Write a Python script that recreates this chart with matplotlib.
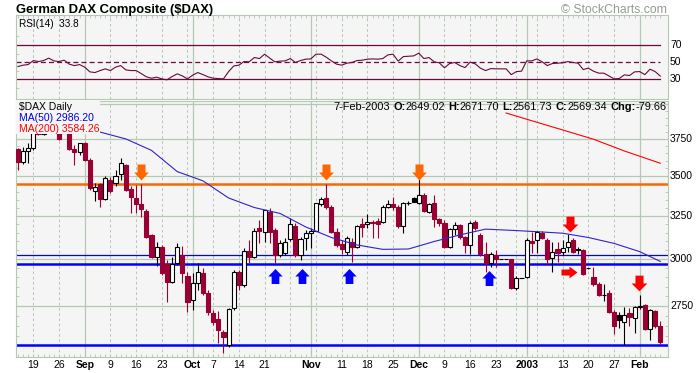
import numpy as np
import pandas as pd
import matplotlib
matplotlib.use("Agg")
import matplotlib.pyplot as plt
from matplotlib.path import Path
from matplotlib.patches import Rectangle
from matplotlib.ticker import FixedLocator, NullFormatter, NullLocator

plt.rcParams['font.family'] = ['Liberation Sans', 'DejaVu Sans']

# Xetra trading days on the chart (closed Christmas day and New Year's day)
dates = pd.bdate_range('2002-08-14', '2003-02-07')
dates = dates[~dates.isin(pd.to_datetime(['2002-12-25', '2003-01-01']))]

opens = [
    3681, 3595, 3667, 3685, 3800, 3785, 3813, 3834, 3806, 3795,
    3806, 3679, 3662, 3720, 3609, 3404, 3449, 3354, 3475, 3457,
    3514, 3571, 3415, 3358, 3323, 3281, 3137, 3009, 3070, 2972,
    2876, 2976, 3022, 2907, 2780, 2867, 2924, 2818, 2712, 2683,
    2619, 2557, 2738, 2930, 2858, 3042, 3013, 3180, 3155, 3276,
    3166, 3022, 3032, 3112, 3191, 3022, 3118, 3150, 3162, 3323,
    3358, 3302, 3155, 3085, 3041, 3097, 3070, 3202, 3202, 3216,
    3222, 3216, 3306, 3323, 3302, 3190, 3327, 3360, 3331, 3379,
    3276, 3327, 3230, 3210, 3066, 3172, 3196, 3124, 3079, 3216,
    3137, 3028, 2976, 3022, 2998, 2998, 2998, 2841, 2895, 2903,
    3102, 3108, 3150, 3108, 3004, 3056, 3041, 3066, 3108, 3056,
    3051, 2950, 2900, 2861, 2806, 2818, 2720, 2704, 2670, 2712,
    2686, 2746, 2754, 2632, 2724, 2649.02]
highs = [
    3687, 3694, 3722, 3806, 3830, 3827, 3850, 3841, 3813, 3834,
    3820, 3708, 3724, 3729, 3619, 3455, 3455, 3497, 3494, 3540,
    3617, 3580, 3436, 3443, 3449, 3292, 3143, 3097, 3079, 2994,
    3011, 3091, 3073, 2928, 2923, 2978, 2950, 2832, 2729, 2725,
    2629, 2739, 2939, 2939, 3062, 3108, 3177, 3226, 3286, 3296,
    3178, 3108, 3120, 3238, 3208, 3126, 3166, 3177, 3329, 3368,
    3449, 3317, 3178, 3108, 3131, 3120, 3196, 3236, 3262, 3226,
    3238, 3317, 3348, 3364, 3317, 3335, 3341, 3366, 3480, 3392,
    3329, 3379, 3238, 3226, 3178, 3216, 3202, 3131, 3222, 3226,
    3149, 3097, 3041, 3051, 2998, 2998, 3000, 2907, 2895, 3120,
    3155, 3160, 3160, 3120, 3097, 3097, 3108, 3145, 3120, 3070,
    3056, 2952, 2954, 2874, 2861, 2832, 2729, 2719, 2742, 2739,
    2750, 2806, 2758, 2732, 2729, 2671.70]
lows = [
    3540, 3580, 3586, 3674, 3778, 3780, 3800, 3795, 3743, 3792,
    3674, 3573, 3640, 3600, 3411, 3344, 3302, 3348, 3392, 3436,
    3475, 3404, 3270, 3268, 3245, 3120, 3006, 2961, 2912, 2771,
    2869, 2967, 2869, 2720, 2729, 2832, 2806, 2704, 2654, 2565,
    2519, 2549, 2729, 2832, 2848, 2977, 3006, 3089, 3097, 3091,
    2976, 3011, 3022, 3102, 3011, 2994, 3051, 3062, 3159, 3310,
    3292, 3149, 3068, 3028, 3022, 2985, 3062, 3127, 3178, 3120,
    3118, 3208, 3298, 3286, 3178, 3147, 3317, 3335, 3323, 3274,
    3268, 3186, 3190, 3062, 3062, 3137, 3114, 3032, 3028, 3166,
    3017, 2930, 2957, 2957, 2998, 2998, 2837, 2832, 2895, 2896,
    3032, 3032, 3114, 2967, 2930, 2985, 3022, 3041, 3032, 3028,
    2912, 2945, 2855, 2801, 2776, 2714, 2607, 2639, 2557, 2649,
    2613, 2734, 2629, 2581, 2639, 2561.73]
closes = [
    3595, 3667, 3685, 3790, 3785, 3813, 3834, 3806, 3750, 3820,
    3679, 3662, 3720, 3606, 3423, 3427, 3354, 3484, 3404, 3497,
    3585, 3411, 3364, 3323, 3290, 3126, 3013, 3066, 2921, 2876,
    2971, 3070, 2921, 2768, 2870, 2930, 2815, 2720, 2670, 2629,
    2597, 2732, 2930, 2858, 3047, 3013, 3162, 3158, 3286, 3155,
    3022, 3089, 3097, 3202, 3022, 3112, 3150, 3162, 3327, 3352,
    3302, 3155, 3079, 3055, 3118, 3070, 3190, 3186, 3216, 3206,
    3200, 3302, 3321, 3302, 3190, 3327, 3330, 3337, 3379, 3281,
    3323, 3230, 3210, 3070, 3172, 3195, 3124, 3079, 3206, 3180,
    3028, 2976, 3028, 2998, 2998, 2998, 2841, 2895, 2895, 3108,
    3093, 3155, 3118, 2998, 3041, 3034, 3060, 3097, 3041, 3048,
    2918, 2948, 2861, 2806, 2808, 2720, 2646, 2678, 2704, 2691,
    2746, 2748, 2632, 2729, 2649.00, 2569.34]

rsi14 = [
    44.9, 46.5, 47.2, 51.9, 50.7, 51.9, 54.7, 51.5, 50.7, 52.3,
    47.7, 46.0, 47.2, 44.2, 38.7, 37.9, 40.2, 42.2, 40.2, 44.2,
    46.0, 41.0, 40.2, 40.2, 36.7, 32.9, 31.3, 32.5, 30.5, 29.4,
    33.2, 36.4, 34.0, 30.5, 34.8, 37.9, 35.5, 32.9, 31.3, 30.9,
    30.5, 39.0, 45.6, 46.5, 50.7, 50.4, 55.4, 54.2, 59.3, 54.7,
    50.4, 51.2, 51.5, 54.2, 49.6, 51.9, 53.5, 53.8, 59.3, 59.3,
    55.8, 51.5, 47.7, 46.5, 48.8, 49.6, 51.9, 52.3, 53.5, 53.8,
    53.5, 54.2, 58.5, 59.3, 51.2, 56.5, 56.9, 57.3, 60.5, 54.2,
    55.4, 50.4, 49.2, 43.4, 48.4, 49.6, 46.0, 43.7, 50.0, 48.0,
    43.0, 40.2, 42.5, 42.2, 42.2, 42.2, 35.5, 39.0, 39.5, 51.5,
    51.5, 53.8, 50.4, 46.0, 48.4, 48.8, 49.2, 50.7, 49.6, 48.8,
    41.4, 43.0, 39.5, 37.2, 37.2, 34.0, 30.5, 30.9, 35.2, 34.4,
    38.7, 39.0, 35.5, 41.8, 39.0, 33.8]

# moving averages (trading-day index, value)
ma50_days = [16, 21, 26, 31, 36, 41, 46, 51, 56, 61, 66, 71, 76, 81, 86, 91,
             96, 101, 106, 111, 116, 121, 125]
ma50_vals = [3798, 3750, 3671, 3529, 3469, 3360, 3301, 3265, 3184, 3122, 3079,
             3054, 3056, 3099, 3137, 3171, 3164, 3156, 3147, 3122, 3088, 3041,
             2986.20]
ma200_days = [95, 99, 105, 112, 118, 125]
ma200_vals = [3935, 3890, 3824, 3748, 3667, 3584.26]

# hand drawn lines
resistance = 3450
support_upper = 3022
support = 2972
support_low = 2557

tick_dates = ['2002-08-19', '2002-08-26', '2002-09-02', '2002-09-09', '2002-09-16',
              '2002-09-23', '2002-10-01', '2002-10-07', '2002-10-14', '2002-10-21',
              '2002-11-01', '2002-11-11', '2002-11-18', '2002-11-25', '2002-12-02',
              '2002-12-09', '2002-12-16', '2002-12-23', '2003-01-02', '2003-01-13',
              '2003-01-20', '2003-01-27', '2003-02-03']
tick_text = ['19', '26', 'Sep', '9', '16', '23', 'Oct', '7', '14', '21', 'Nov', '11',
             '18', '25', 'Dec', '9', '16', '23', '2003', '13', '20', '27', 'Feb']

price_ticks = [2750, 3000, 3250, 3500, 3750]
rsi_levels = [70, 50, 30]

BG = '#f5f5f5'
GRID = '#b4c8b4'
RED = '#990033'
SIZE = 7.5

W, Hpx = 699, 373
fig = plt.figure(figsize=(W / 100, Hpx / 100), dpi=100)


def frame(top, bottom):
    return [16 / W, 1 - bottom / Hpx, 652 / W, (bottom - top) / Hpx]


ax_rsi = fig.add_axes(frame(15, 99.3))
ax = fig.add_axes(frame(101, 357))

n = len(dates)
x = np.arange(n)
mondays = np.where(dates.dayofweek == 0)[0]
month_starts = [i for i in range(1, n) if dates[i].month != dates[i - 1].month]

for a in (ax, ax_rsi):
    a.set_facecolor(BG)
    a.set_xlim(-0.37, 126.5)
    for s in a.spines.values():
        s.set_color(GRID)
        s.set_linewidth(0.8)
    for i in mondays:
        if i not in month_starts:
            a.axvline(i, color=GRID, lw=0.75, ls=(0, (2.5, 2.5)), zorder=0.5)
    for i in month_starts:
        a.axvline(i, color=GRID, lw=0.9, zorder=0.5)
    a.xaxis.set_major_locator(NullLocator())
    a.xaxis.set_minor_locator(FixedLocator(x))
    a.tick_params(which='minor', direction='in', length=2.5, width=0.6, color=GRID)

# ---- RSI panel
ax_rsi.set_ylim(6.7, 105)
ax_rsi.yaxis.set_major_locator(NullLocator())
ax_rsi.yaxis.set_minor_locator(FixedLocator([20, 40, 60, 80]))
ax_rsi.yaxis.set_minor_formatter(NullFormatter())
ax_rsi.tick_params(axis='x', which='minor', top=True, bottom=False)
ax_rsi.tick_params(axis='y', which='minor', left=True, right=False)
RSI_COL = '#6a0a3a'
ax_rsi.axhline(70, color=RSI_COL, lw=0.9, xmax=0.988)
ax_rsi.axhline(30, color=RSI_COL, lw=0.9, xmax=0.988)
ax_rsi.axhline(50, color=RSI_COL, lw=0.9, ls=(0, (4, 2.5)), xmax=0.988)
ax_rsi.plot(x, rsi14, color=RSI_COL, lw=0.8, zorder=3)
for v in rsi_levels:
    ax_rsi.text(1 + 2 / 652, v, str(v), transform=ax_rsi.get_yaxis_transform(),
                ha='left', va='center', fontsize=SIZE)
ax_rsi.text(3 / 652, 1 - 8.7 / 84.3, f'RSI(14)  {rsi14[-1]:.1f}', transform=ax_rsi.transAxes,
            ha='left', va='center', fontsize=7.2)

# ---- price panel
ax.set_yscale('log')
ax.set_ylim(2500, 4024)
ax.yaxis.set_major_locator(NullLocator())
ax.yaxis.set_minor_locator(FixedLocator(np.arange(2550, 4001, 50)))
ax.yaxis.set_minor_formatter(NullFormatter())
ax.tick_params(axis='y', which='minor', left=True, right=True)
ax.tick_params(axis='x', which='minor', bottom=True, top=False)
for p in price_ticks + [4000]:
    ax.axhline(p, color=GRID, lw=0.9, zorder=0.5)
for p in price_ticks:
    ax.text(1 + 2 / 652, p, str(p), transform=ax.get_yaxis_transform(),
            ha='left', va='center', fontsize=SIZE)

ax.axhline(resistance, color='#ff6600', lw=1.8, zorder=2)
ax.axhline(support_upper, color='#0000ff', lw=0.9, zorder=2)
ax.axhline(support, color='#0000ff', lw=1.8, zorder=2)
ax.axhline(support_low, color='#0000ff', lw=1.8, zorder=2)

o, h, l, c = (np.array(v, dtype=float) for v in (opens, highs, lows, closes))
prev_close = np.r_[np.inf, c[:-1]]
colour = np.where(c < prev_close, RED, 'black')
filled = c < o
body_lo = np.minimum(o, c)
body_hi = np.maximum(o, c)
ax.vlines(x, l, h, colors=colour, lw=0.8, zorder=3)
ax.bar(x, body_hi - body_lo, bottom=body_lo, width=0.8,
       color=np.where(filled, colour, 'white'), edgecolor=colour, linewidth=0.8, zorder=4)

ax.plot(ma50_days, ma50_vals, color='#3322cc', lw=0.8, zorder=5)
ax.plot(ma200_days, ma200_vals, color='#ff0000', lw=0.8, zorder=5)


def block_arrow(w, hgt, shaft, turn):
    hh = hgt / 2.0
    pts = np.array([(-shaft / 2, hh), (shaft / 2, hh), (shaft / 2, 0), (w / 2, 0),
                    (0, -hh), (-w / 2, 0), (-shaft / 2, 0), (-shaft / 2, hh)])
    if turn == 'up':
        pts[:, 1] *= -1
    elif turn == 'right':
        pts = np.c_[-pts[:, 1], pts[:, 0]]
    return Path(pts, closed=True), 2 * np.abs(pts).max() * 0.72


arrows = [
    ([24.0, 59.9, 78.0], [3525, 3525, 3525], '#ff6600', block_arrow(14.7, 16, 8, 'down')),
    ([50.1, 55.3, 64.5], [2909, 2909, 2909], '#0000ff', block_arrow(14.3, 15, 7.7, 'up')),
    ([91.7], [2896], '#0000ff', block_arrow(14.3, 15, 7.7, 'up')),
    ([107.4, 120.9], [3203, 2870], '#ff0000', block_arrow(15.7, 15.7, 8, 'down')),
    ([107.2], [2926], '#ff0000', block_arrow(11.7, 16, 6, 'right')),
]
for xs, ys, col, (path, size) in arrows:
    ax.plot(xs, ys, ls='none', marker=path, markersize=size, color=col, mew=0, zorder=7)

# label area masks the candles underneath
ax.add_patch(Rectangle((0, 1 - 32.5 / 256), (100 - 16) / 652, 32.5 / 256, transform=ax.transAxes,
                       facecolor=BG, edgecolor='none', zorder=8))
ax.text(3 / 652, 1 - 6.3 / 256, '$DAX Daily', transform=ax.transAxes, fontsize=SIZE,
        va='center', zorder=9)
ax.text(3 / 652, 1 - 17 / 256, f'MA(50) {ma50_vals[-1]:.2f}', transform=ax.transAxes,
        fontsize=SIZE, color='#0000dd', va='center', zorder=9)
ax.text(3 / 652, 1 - 28.5 / 256, f'MA(200) {ma200_vals[-1]:.2f}', transform=ax.transAxes,
        fontsize=SIZE, color='#ff0000', va='center', zorder=9)

# date labels under the price panel
for d, t in zip(tick_dates, tick_text):
    i = dates.get_loc(pd.Timestamp(d))
    ax.text(i, -8.5 / 256, t, transform=ax.get_xaxis_transform(), ha='center', va='center',
            fontsize=SIZE, fontweight='bold' if t.isalpha() or len(t) == 4 else 'normal')

fig.text(16 / W, 1 - 9.5 / Hpx, 'German DAX Composite ($DAX)', fontsize=9.4,
         fontweight='bold', ha='left', va='center')
fig.text(667 / W, 1 - 10 / Hpx, '© StockCharts.com', fontsize=8.8, color='#999999',
         ha='right', va='center')

# last bar summary, laid out right to left with measured widths
chg = closes[-1] - closes[-2]
pieces = [(f'{dates[-1].day}-{dates[-1].strftime("%b-%Y")}', 'normal'),
          ('O:', 'bold'), (f'{opens[-1]:.2f}', 'normal'),
          ('H:', 'bold'), (f'{highs[-1]:.2f}', 'normal'),
          ('L:', 'bold'), (f'{lows[-1]:.2f}', 'normal'),
          ('C:', 'bold'), (f'{closes[-1]:.2f}', 'normal'),
          ('Chg:', 'bold'), (f'{chg:.2f}', 'normal')]
renderer = fig.canvas.get_renderer()
right = 666.5
for txt, wt in reversed(pieces):
    t = fig.text(right / W, 1 - 110.5 / Hpx, txt, ha='right', va='baseline',
                 fontsize=7.9, fontweight=wt, zorder=9)
    right -= t.get_window_extent(renderer).width
    if wt == 'bold':
        right -= 3.2   # word space before each field name

fig.savefig('out.png', dpi=100, facecolor='white')
